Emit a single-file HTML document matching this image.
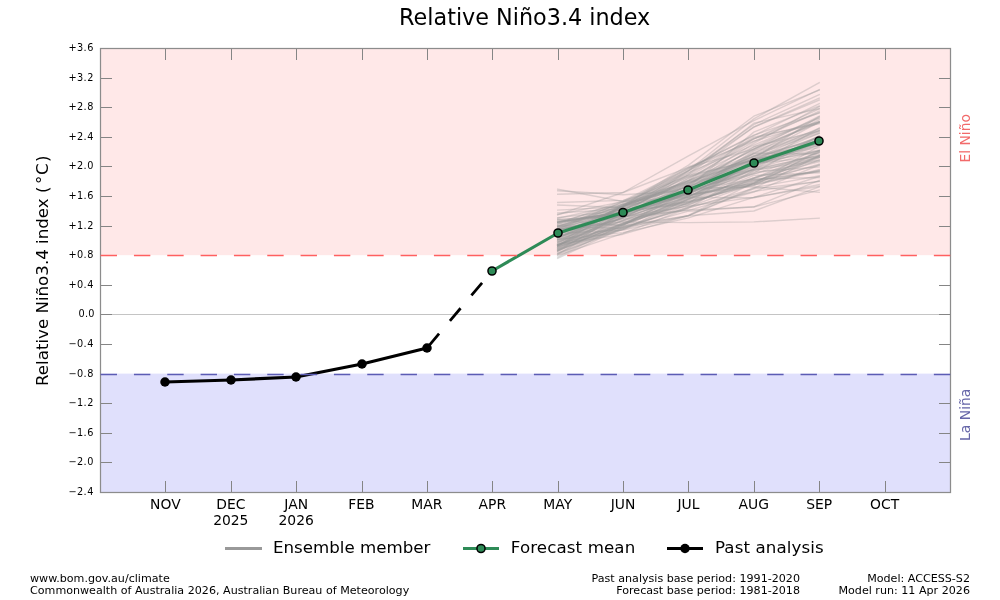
<!DOCTYPE html>
<html lang="en"><head><meta charset="utf-8"><title>Relative Niño3.4 index</title>
<style>html,body{margin:0;padding:0;background:#fff;}body{width:1000px;height:600px;overflow:hidden;}svg{display:block;}text{font-family:"DejaVu Sans", "Liberation Sans", sans-serif;fill:#000;}</style>
</head><body>
<svg width="1000" height="600" viewBox="0 0 1000 600">
<rect x="0" y="0" width="1000" height="600" fill="#ffffff"/>
<rect x="100" y="48" width="851" height="207.20" fill="#ffe8e8"/>
<rect x="100" y="373.60" width="851" height="118.90" fill="#e0e0fc"/>
<line x1="100" x2="951" y1="314.5" y2="314.5" stroke="#c4c4c4" stroke-width="1.2"/>
<g fill="none" stroke="#999999" stroke-opacity="0.34" stroke-width="1.4" stroke-linejoin="round" stroke-linecap="square">
<polyline points="557.7,229.3 623.1,221.9 688.5,222.6 753.8,221.9 819.2,218.2"/>
<polyline points="557.7,236.8 623.1,208.0 688.5,176.9 753.8,159.2 819.2,147.8"/>
<polyline points="557.7,237.2 623.1,210.6 688.5,178.7 753.8,141.6 819.2,111.1"/>
<polyline points="557.7,222.3 623.1,211.6 688.5,193.8 753.8,165.0 819.2,142.7"/>
<polyline points="557.7,230.3 623.1,215.0 688.5,183.2 753.8,159.5 819.2,143.8"/>
<polyline points="557.7,236.9 623.1,215.7 688.5,195.0 753.8,183.0 819.2,156.0"/>
<polyline points="557.7,248.7 623.1,224.6 688.5,199.9 753.8,173.0 819.2,136.0"/>
<polyline points="557.7,233.9 623.1,207.0 688.5,170.2 753.8,118.9 819.2,82.8"/>
<polyline points="557.7,225.7 623.1,211.9 688.5,193.5 753.8,174.1 819.2,152.4"/>
<polyline points="557.7,245.8 623.1,229.4 688.5,198.9 753.8,166.9 819.2,142.3"/>
<polyline points="557.7,230.3 623.1,206.8 688.5,173.5 753.8,123.2 819.2,108.6"/>
<polyline points="557.7,247.4 623.1,222.8 688.5,199.1 753.8,162.9 819.2,140.0"/>
<polyline points="557.7,245.1 623.1,223.3 688.5,203.4 753.8,159.0 819.2,130.4"/>
<polyline points="557.7,222.1 623.1,204.6 688.5,180.6 753.8,153.8 819.2,132.1"/>
<polyline points="557.7,244.9 623.1,224.3 688.5,202.8 753.8,183.3 819.2,164.1"/>
<polyline points="557.7,222.3 623.1,212.0 688.5,191.5 753.8,153.2 819.2,154.0"/>
<polyline points="557.7,237.4 623.1,218.1 688.5,184.9 753.8,159.2 819.2,136.9"/>
<polyline points="557.7,219.8 623.1,225.9 688.5,215.6 753.8,188.8 819.2,181.5"/>
<polyline points="557.7,245.0 623.1,217.3 688.5,196.5 753.8,165.8 819.2,128.1"/>
<polyline points="557.7,214.9 623.1,192.5 688.5,155.9 753.8,120.7 819.2,89.7"/>
<polyline points="557.7,253.0 623.1,225.6 688.5,187.1 753.8,132.1 819.2,106.0"/>
<polyline points="557.7,239.9 623.1,227.2 688.5,215.7 753.8,187.6 819.2,175.9"/>
<polyline points="557.7,229.3 623.1,204.2 688.5,186.9 753.8,160.1 819.2,133.4"/>
<polyline points="557.7,226.5 623.1,228.3 688.5,207.3 753.8,191.5 819.2,181.2"/>
<polyline points="557.7,246.2 623.1,205.4 688.5,186.9 753.8,155.3 819.2,133.3"/>
<polyline points="557.7,233.2 623.1,230.1 688.5,215.8 753.8,211.0 819.2,186.9"/>
<polyline points="557.7,245.9 623.1,218.0 688.5,184.5 753.8,143.4 819.2,106.7"/>
<polyline points="557.7,243.5 623.1,203.6 688.5,172.6 753.8,145.1 819.2,117.6"/>
<polyline points="557.7,254.3 623.1,216.2 688.5,178.0 753.8,146.8 819.2,130.9"/>
<polyline points="557.7,244.5 623.1,226.9 688.5,208.1 753.8,188.3 819.2,155.7"/>
<polyline points="557.7,238.4 623.1,209.8 688.5,181.0 753.8,156.6 819.2,128.2"/>
<polyline points="557.7,239.5 623.1,216.8 688.5,210.3 753.8,192.0 819.2,165.0"/>
<polyline points="557.7,218.2 623.1,204.3 688.5,184.0 753.8,148.9 819.2,122.8"/>
<polyline points="557.7,223.7 623.1,201.0 688.5,168.5 753.8,135.1 819.2,113.0"/>
<polyline points="557.7,220.5 623.1,212.9 688.5,195.0 753.8,184.9 819.2,169.7"/>
<polyline points="557.7,248.0 623.1,219.9 688.5,192.2 753.8,169.0 819.2,135.7"/>
<polyline points="557.7,228.8 623.1,201.9 688.5,171.0 753.8,124.6 819.2,94.6"/>
<polyline points="557.7,242.1 623.1,205.2 688.5,165.1 753.8,116.2 819.2,90.2"/>
<polyline points="557.7,227.2 623.1,202.1 688.5,175.5 753.8,160.3 819.2,150.1"/>
<polyline points="557.7,250.1 623.1,214.0 688.5,171.0 753.8,127.1 819.2,100.0"/>
<polyline points="557.7,250.6 623.1,222.9 688.5,198.9 753.8,178.0 819.2,151.9"/>
<polyline points="557.7,226.3 623.1,208.9 688.5,189.2 753.8,152.4 819.2,130.9"/>
<polyline points="557.7,232.4 623.1,219.0 688.5,209.9 753.8,207.0 819.2,190.1"/>
<polyline points="557.7,237.4 623.1,212.2 688.5,192.2 753.8,166.8 819.2,137.0"/>
<polyline points="557.7,251.1 623.1,223.7 688.5,197.4 753.8,163.6 819.2,156.8"/>
<polyline points="557.7,229.2 623.1,209.4 688.5,182.5 753.8,158.6 819.2,116.4"/>
<polyline points="557.7,219.3 623.1,216.7 688.5,206.1 753.8,197.4 819.2,176.5"/>
<polyline points="557.7,234.3 623.1,213.2 688.5,189.9 753.8,164.9 819.2,144.6"/>
<polyline points="557.7,242.1 623.1,217.6 688.5,197.3 753.8,160.5 819.2,141.0"/>
<polyline points="557.7,240.4 623.1,206.4 688.5,176.7 753.8,138.5 819.2,121.8"/>
<polyline points="557.7,226.1 623.1,205.9 688.5,194.2 753.8,163.3 819.2,151.1"/>
<polyline points="557.7,222.1 623.1,212.0 688.5,193.8 753.8,162.7 819.2,136.3"/>
<polyline points="557.7,235.2 623.1,206.4 688.5,182.9 753.8,156.4 819.2,143.9"/>
<polyline points="557.7,234.4 623.1,214.1 688.5,192.0 753.8,169.6 819.2,155.3"/>
<polyline points="557.7,223.8 623.1,212.4 688.5,201.6 753.8,185.0 819.2,171.3"/>
<polyline points="557.7,249.8 623.1,224.1 688.5,200.0 753.8,168.6 819.2,145.2"/>
<polyline points="557.7,230.0 623.1,216.4 688.5,192.6 753.8,153.5 819.2,119.7"/>
<polyline points="557.7,241.2 623.1,212.4 688.5,202.6 753.8,181.9 819.2,157.8"/>
<polyline points="557.7,244.5 623.1,234.2 688.5,215.5 753.8,182.7 819.2,152.4"/>
<polyline points="557.7,232.3 623.1,208.2 688.5,180.3 753.8,138.8 819.2,112.6"/>
<polyline points="557.7,237.4 623.1,217.6 688.5,196.4 753.8,171.9 819.2,166.9"/>
<polyline points="557.7,246.1 623.1,213.3 688.5,174.5 753.8,127.0 819.2,98.1"/>
<polyline points="557.7,242.0 623.1,220.9 688.5,205.4 753.8,177.9 819.2,161.7"/>
<polyline points="557.7,245.3 623.1,206.2 688.5,181.7 753.8,159.8 819.2,145.8"/>
<polyline points="557.7,222.3 623.1,212.1 688.5,185.8 753.8,161.3 819.2,142.6"/>
<polyline points="557.7,250.9 623.1,225.5 688.5,190.8 753.8,158.4 819.2,137.9"/>
<polyline points="557.7,230.3 623.1,215.0 688.5,193.7 753.8,164.2 819.2,150.8"/>
<polyline points="557.7,239.4 623.1,220.4 688.5,198.2 753.8,178.0 819.2,156.2"/>
<polyline points="557.7,245.0 623.1,210.7 688.5,170.5 753.8,138.8 819.2,109.0"/>
<polyline points="557.7,239.6 623.1,232.6 688.5,217.9 753.8,197.3 819.2,186.4"/>
<polyline points="557.7,243.7 623.1,206.4 688.5,184.9 753.8,149.0 819.2,121.5"/>
<polyline points="557.7,225.5 623.1,224.6 688.5,201.5 753.8,175.4 819.2,172.8"/>
<polyline points="557.7,217.7 623.1,210.3 688.5,204.2 753.8,181.0 819.2,171.0"/>
<polyline points="557.7,228.1 623.1,205.9 688.5,167.0 753.8,141.2 819.2,122.1"/>
<polyline points="557.7,249.0 623.1,220.9 688.5,196.0 753.8,180.3 819.2,165.2"/>
<polyline points="557.7,245.7 623.1,213.2 688.5,190.0 753.8,155.9 819.2,139.7"/>
<polyline points="557.7,244.9 623.1,216.0 688.5,191.8 753.8,170.6 819.2,157.4"/>
<polyline points="557.7,246.7 623.1,228.3 688.5,202.7 753.8,183.6 819.2,170.3"/>
<polyline points="557.7,224.4 623.1,205.8 688.5,168.5 753.8,135.6 819.2,103.6"/>
<polyline points="557.7,227.1 623.1,214.1 688.5,190.6 753.8,179.1 819.2,177.5"/>
<polyline points="557.7,249.5 623.1,229.3 688.5,211.2 753.8,206.8 819.2,180.3"/>
<polyline points="557.7,221.9 623.1,213.6 688.5,189.4 753.8,173.6 819.2,160.8"/>
<polyline points="557.7,230.7 623.1,213.1 688.5,195.1 753.8,185.6 819.2,150.5"/>
<polyline points="557.7,247.7 623.1,213.2 688.5,188.3 753.8,147.0 819.2,118.2"/>
<polyline points="557.7,238.7 623.1,205.7 688.5,175.0 753.8,137.1 819.2,123.6"/>
<polyline points="557.7,251.4 623.1,213.0 688.5,190.4 753.8,156.9 819.2,122.3"/>
<polyline points="557.7,253.3 623.1,229.4 688.5,204.7 753.8,178.8 819.2,157.4"/>
<polyline points="557.7,255.4 623.1,233.3 688.5,208.0 753.8,170.4 819.2,160.0"/>
<polyline points="557.7,257.1 623.1,224.5 688.5,192.1 753.8,150.8 819.2,129.3"/>
<polyline points="557.7,254.5 623.1,227.0 688.5,195.8 753.8,168.9 819.2,150.7"/>
<polyline points="557.7,258.3 623.1,227.6 688.5,206.9 753.8,183.7 819.2,146.1"/>
<polyline points="557.7,189.2 623.1,201.5 688.5,197.4 753.8,197.8 819.2,184.6"/>
<polyline points="557.7,190.8 623.1,194.8 688.5,190.6 753.8,184.1 819.2,159.8"/>
<polyline points="557.7,194.2 623.1,192.5 688.5,167.3 753.8,149.2 819.2,116.1"/>
<polyline points="557.7,202.5 623.1,200.4 688.5,182.5 753.8,169.7 819.2,155.4"/>
<polyline points="557.7,205.0 623.1,207.6 688.5,188.4 753.8,186.9 819.2,192.3"/>
<polyline points="557.7,210.1 623.1,206.7 688.5,180.5 753.8,150.1 819.2,122.1"/>
<polyline points="557.7,213.0 623.1,208.9 688.5,201.8 753.8,180.0 819.2,171.6"/>
<polyline points="557.7,214.5 623.1,201.6 688.5,186.7 753.8,164.6 819.2,139.1"/>
</g>
<line x1="427.0" y1="348.0" x2="492.0" y2="271.0" stroke="#000" stroke-width="2.75" stroke-dasharray="16.5 16.83" stroke-dashoffset="-2.2"/>
<polyline fill="none" stroke="#000" stroke-width="3.2" stroke-linejoin="round" points="165.0,382.0 231.0,380.0 296.0,377.0 362.0,364.0 427.0,348.0"/>
<circle cx="165.0" cy="382.0" r="4.75" fill="#000"/>
<circle cx="231.0" cy="380.0" r="4.75" fill="#000"/>
<circle cx="296.0" cy="377.0" r="4.75" fill="#000"/>
<circle cx="362.0" cy="364.0" r="4.75" fill="#000"/>
<circle cx="427.0" cy="348.0" r="4.75" fill="#000"/>
<polyline fill="none" stroke="#2e8b57" stroke-width="3.1" stroke-linejoin="round" points="492.0,271.0 558.0,233.0 623.0,212.5 688.0,190.0 754.0,163.0 819.0,141.0"/>
<circle cx="492.0" cy="271.0" r="4.05" fill="#2e8b57" stroke="#000" stroke-width="1.5"/>
<circle cx="558.0" cy="233.0" r="4.05" fill="#2e8b57" stroke="#000" stroke-width="1.5"/>
<circle cx="623.0" cy="212.5" r="4.05" fill="#2e8b57" stroke="#000" stroke-width="1.5"/>
<circle cx="688.0" cy="190.0" r="4.05" fill="#2e8b57" stroke="#000" stroke-width="1.5"/>
<circle cx="754.0" cy="163.0" r="4.05" fill="#2e8b57" stroke="#000" stroke-width="1.5"/>
<circle cx="819.0" cy="141.0" r="4.05" fill="#2e8b57" stroke="#000" stroke-width="1.5"/>
<rect x="100.5" y="48.5" width="850" height="444" fill="none" stroke="#8c8c8c" stroke-width="1.25"/>
<g stroke="#858585" stroke-width="1">
<line x1="165.5" x2="165.5" y1="492" y2="481"/>
<line x1="165.5" x2="165.5" y1="49" y2="60"/>
<line x1="231.5" x2="231.5" y1="492" y2="481"/>
<line x1="231.5" x2="231.5" y1="49" y2="60"/>
<line x1="296.5" x2="296.5" y1="492" y2="481"/>
<line x1="296.5" x2="296.5" y1="49" y2="60"/>
<line x1="362.5" x2="362.5" y1="492" y2="481"/>
<line x1="362.5" x2="362.5" y1="49" y2="60"/>
<line x1="427.5" x2="427.5" y1="492" y2="481"/>
<line x1="427.5" x2="427.5" y1="49" y2="60"/>
<line x1="492.5" x2="492.5" y1="492" y2="481"/>
<line x1="492.5" x2="492.5" y1="49" y2="60"/>
<line x1="558.5" x2="558.5" y1="492" y2="481"/>
<line x1="558.5" x2="558.5" y1="49" y2="60"/>
<line x1="623.5" x2="623.5" y1="492" y2="481"/>
<line x1="623.5" x2="623.5" y1="49" y2="60"/>
<line x1="688.5" x2="688.5" y1="492" y2="481"/>
<line x1="688.5" x2="688.5" y1="49" y2="60"/>
<line x1="754.5" x2="754.5" y1="492" y2="481"/>
<line x1="754.5" x2="754.5" y1="49" y2="60"/>
<line x1="819.5" x2="819.5" y1="492" y2="481"/>
<line x1="819.5" x2="819.5" y1="49" y2="60"/>
<line x1="885.5" x2="885.5" y1="492" y2="481"/>
<line x1="885.5" x2="885.5" y1="49" y2="60"/>
<line x1="101" x2="112" y1="78.5" y2="78.5"/>
<line x1="950" x2="939" y1="78.5" y2="78.5"/>
<line x1="101" x2="112" y1="107.5" y2="107.5"/>
<line x1="950" x2="939" y1="107.5" y2="107.5"/>
<line x1="101" x2="112" y1="137.5" y2="137.5"/>
<line x1="950" x2="939" y1="137.5" y2="137.5"/>
<line x1="101" x2="112" y1="166.5" y2="166.5"/>
<line x1="950" x2="939" y1="166.5" y2="166.5"/>
<line x1="101" x2="112" y1="196.5" y2="196.5"/>
<line x1="950" x2="939" y1="196.5" y2="196.5"/>
<line x1="101" x2="112" y1="226.5" y2="226.5"/>
<line x1="950" x2="939" y1="226.5" y2="226.5"/>
<line x1="101" x2="112" y1="255.5" y2="255.5"/>
<line x1="950" x2="939" y1="255.5" y2="255.5"/>
<line x1="101" x2="112" y1="285.5" y2="285.5"/>
<line x1="950" x2="939" y1="285.5" y2="285.5"/>
<line x1="101" x2="112" y1="314.5" y2="314.5"/>
<line x1="950" x2="939" y1="314.5" y2="314.5"/>
<line x1="101" x2="112" y1="344.5" y2="344.5"/>
<line x1="950" x2="939" y1="344.5" y2="344.5"/>
<line x1="101" x2="112" y1="374.5" y2="374.5"/>
<line x1="950" x2="939" y1="374.5" y2="374.5"/>
<line x1="101" x2="112" y1="403.5" y2="403.5"/>
<line x1="950" x2="939" y1="403.5" y2="403.5"/>
<line x1="101" x2="112" y1="433.5" y2="433.5"/>
<line x1="950" x2="939" y1="433.5" y2="433.5"/>
<line x1="101" x2="112" y1="462.5" y2="462.5"/>
<line x1="950" x2="939" y1="462.5" y2="462.5"/>
</g>
<line x1="100.6" x2="951" y1="255.5" y2="255.5" stroke="#ff6060" stroke-width="1.4" stroke-dasharray="16.4 16.93"/>
<line x1="100.6" x2="951" y1="374.5" y2="374.5" stroke="#5c5cb4" stroke-width="1.4" stroke-dasharray="16.4 16.93"/>
<g font-size="9.72" text-anchor="end" letter-spacing="0.45">
<text x="93.8" y="50.9">+3.6</text>
<text x="93.8" y="80.9">+3.2</text>
<text x="93.8" y="109.9">+2.8</text>
<text x="93.8" y="139.9">+2.4</text>
<text x="93.8" y="168.9">+2.0</text>
<text x="93.8" y="198.9">+1.6</text>
<text x="93.8" y="228.9">+1.2</text>
<text x="93.8" y="257.9">+0.8</text>
<text x="93.8" y="287.9">+0.4</text>
<text x="94.6" y="316.9" letter-spacing="0.2">0.0</text>
<text x="93.8" y="346.9">−0.4</text>
<text x="93.8" y="376.9">−0.8</text>
<text x="93.8" y="405.9">−1.2</text>
<text x="93.8" y="435.9">−1.6</text>
<text x="93.8" y="464.9">−2.0</text>
<text x="93.8" y="494.9">−2.4</text>
</g>
<g font-size="13.89" text-anchor="middle">
<text x="165.4" y="509">NOV</text>
<text x="230.8" y="509">DEC</text>
<text x="296.2" y="509">JAN</text>
<text x="361.5" y="509">FEB</text>
<text x="426.9" y="509">MAR</text>
<text x="492.3" y="509">APR</text>
<text x="557.7" y="509">MAY</text>
<text x="623.1" y="509">JUN</text>
<text x="688.5" y="509">JUL</text>
<text x="753.8" y="509">AUG</text>
<text x="819.2" y="509">SEP</text>
<text x="884.6" y="509">OCT</text>
<text x="230.8" y="524.8">2025</text>
<text x="296.2" y="524.8">2026</text>
</g>
<text x="524.7" y="24.5" font-size="22.3" text-anchor="middle">Relative Niño3.4 index</text>
<g transform="translate(48.2,0) rotate(-90)" font-size="16.67">
<text x="-386.0" y="0">Relative Niño3.4 index (</text>
<text x="-184.0" y="0">°</text>
<text x="-175.1" y="0">C</text>
<text x="-162.0" y="0">)</text>
</g>
<text transform="translate(970,138.3) rotate(-90)" font-size="13.89" text-anchor="middle" style="fill:#f26a6a">El Niño</text>
<text transform="translate(970,414.8) rotate(-90)" font-size="13.89" text-anchor="middle" style="fill:#6666a8">La Niña</text>
<line x1="225" x2="262" y1="548.5" y2="548.5" stroke="#999999" stroke-width="3.1"/>
<text x="273.0" y="553" font-size="16.67">Ensemble member</text>
<line x1="463" x2="499" y1="548.5" y2="548.5" stroke="#2e8b57" stroke-width="3.1"/>
<circle cx="481" cy="548.5" r="4.05" fill="#2e8b57" stroke="#000" stroke-width="1.5"/>
<text x="510.8" y="553" font-size="16.67" letter-spacing="0.12">Forecast mean</text>
<line x1="667" x2="703" y1="548.5" y2="548.5" stroke="#000" stroke-width="3.2"/>
<circle cx="685" cy="548.5" r="4.75" fill="#000"/>
<text x="714.9" y="553" font-size="16.67" letter-spacing="0.12">Past analysis</text>
<g font-size="11.11">
<text x="30" y="582.2">www.bom.gov.au/climate</text>
<text x="30" y="594.2">Commonwealth of Australia 2026, Australian Bureau of Meteorology</text>
<text x="800" y="582.2" text-anchor="end">Past analysis base period: 1991-2020</text>
<text x="800" y="594.2" text-anchor="end">Forecast base period: 1981-2018</text>
<text x="970" y="582.2" text-anchor="end">Model: ACCESS-S2</text>
<text x="970" y="594.2" text-anchor="end">Model run: 11 Apr 2026</text>
</g>
</svg></body></html>
